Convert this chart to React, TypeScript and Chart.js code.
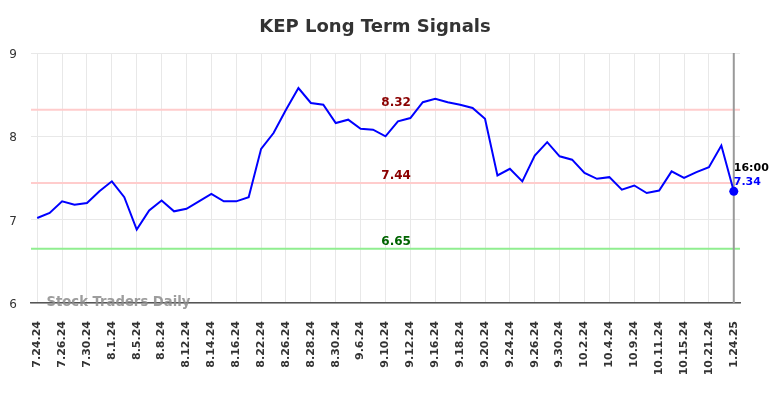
import React, { useEffect, useRef } from "react";
import { Chart, registerables } from "chart.js";

Chart.register(...registerables);

const categories: string[] = [
  "7.24.24", "7.25.24", "7.26.24", "7.29.24", "7.30.24", "7.31.24", "8.1.24", "8.2.24",
  "8.5.24", "8.6.24", "8.8.24", "8.9.24", "8.12.24", "8.13.24", "8.14.24", "8.15.24",
  "8.16.24", "8.19.24", "8.22.24", "8.23.24", "8.26.24", "8.27.24", "8.28.24", "8.29.24",
  "8.30.24", "9.3.24", "9.6.24", "9.9.24", "9.10.24", "9.11.24", "9.12.24", "9.13.24",
  "9.16.24", "9.17.24", "9.18.24", "9.19.24", "9.20.24", "9.23.24", "9.24.24", "9.25.24",
  "9.26.24", "9.27.24", "9.30.24", "10.1.24", "10.2.24", "10.3.24", "10.4.24", "10.8.24",
  "10.9.24", "10.10.24", "10.11.24", "10.14.24", "10.15.24", "10.18.24", "10.21.24", "10.22.24",
  "1.24.25",
];

const prices: number[] = [
  7.02, 7.08, 7.22, 7.18, 7.20, 7.34, 7.46, 7.27,
  6.88, 7.11, 7.23, 7.10, 7.13, 7.22, 7.31, 7.22,
  7.22, 7.27, 7.85, 8.04, 8.32, 8.58, 8.40, 8.38,
  8.16, 8.20, 8.09, 8.08, 8.00, 8.18, 8.22, 8.41,
  8.45, 8.41, 8.38, 8.34, 8.21, 7.53, 7.61, 7.46,
  7.77, 7.93, 7.76, 7.72, 7.56, 7.49, 7.51, 7.36,
  7.41, 7.32, 7.35, 7.58, 7.50, 7.57, 7.63, 7.89,
  7.34,
];

const signalValues: number[] = [8.32, 7.44, 6.65];
const signalLineColors: string[] = ["#ffcccc", "#ffcccc", "#90ee90"];
const signalTextColors: string[] = ["#8b0000", "#8b0000", "#006400"];
const yTicks: number[] = [6, 7, 8, 9];
const titleText = "KEP Long Term Signals";
const lastTimeLabel = "16:00";
const watermark = "Stock Traders Daily";

const FONT = "'DejaVu Sans', sans-serif";

const overlayPlugin = {
  id: "overlay",
  beforeDatasetsDraw(chart: any) {
    const { ctx, chartArea, scales } = chart;
    const y = scales.y;
    const x = scales.x;
    ctx.save();
    signalValues.forEach((v, i) => {
      const py = y.getPixelForValue(v);
      ctx.strokeStyle = signalLineColors[i];
      ctx.lineWidth = 2;
      ctx.beginPath();
      ctx.moveTo(chartArea.left, py);
      ctx.lineTo(chartArea.right, py);
      ctx.stroke();
    });
    const lx = x.getPixelForValue(prices.length - 1);
    ctx.strokeStyle = "#999999";
    ctx.lineWidth = 2;
    ctx.beginPath();
    ctx.moveTo(lx, chartArea.top);
    ctx.lineTo(lx, chartArea.bottom);
    ctx.stroke();
    ctx.restore();
  },
  afterDraw(chart: any) {
    const { ctx, chartArea, scales } = chart;
    const y = scales.y;
    const x = scales.x;
    ctx.save();
    ctx.font = `bold 18px ${FONT}`;
    ctx.fillStyle = "#333333";
    ctx.textAlign = "center";
    ctx.textBaseline = "alphabetic";
    ctx.fillText(titleText, 375, 31.5);
    const cx = chartArea.left + (chartArea.right - chartArea.left) * 0.515;
    ctx.font = `bold 12px ${FONT}`;
    signalValues.forEach((v, i) => {
      const py = y.getPixelForValue(v);
      ctx.fillStyle = signalTextColors[i];
      ctx.fillText(v.toFixed(2), cx, py - 4);
    });
    const li = prices.length - 1;
    const lx = x.getPixelForValue(li);
    const ly = y.getPixelForValue(prices[li]);
    ctx.textAlign = "left";
    ctx.font = `bold 11px ${FONT}`;
    ctx.fillStyle = "#000000";
    ctx.fillText(lastTimeLabel, lx, ly - 20);
    ctx.fillStyle = "#0000ff";
    ctx.fillText(prices[li].toFixed(2), lx, ly - 6);
    ctx.font = `bold 13.2px ${FONT}`;
    ctx.fillStyle = "rgba(140,140,140,0.85)";
    ctx.fillText(watermark, chartArea.left + 15.5, chartArea.bottom + 3);
    ctx.restore();
  },
};

export default function App() {
  const ref = useRef<HTMLCanvasElement | null>(null);
  useEffect(() => {
    if (!ref.current) return;
    const chart = new Chart(ref.current, {
      type: "line",
      data: {
        labels: categories,
        datasets: [
          {
            data: prices,
            borderColor: "#0000ff",
            backgroundColor: "#0000ff",
            borderWidth: 2,
            tension: 0,
            pointRadius: (c: any) => (c.dataIndex === prices.length - 1 ? 4.5 : 0),
            pointHoverRadius: 0,
            pointBackgroundColor: "#0000ff",
            pointBorderWidth: 0,
          },
        ],
      },
      options: {
        animation: false,
        responsive: false,
        maintainAspectRatio: false,
        events: [],
        layout: { padding: { left: 0, right: 44, top: 53, bottom: 0 } },
        plugins: {
          legend: { display: false },
          title: { display: false },
          tooltip: { enabled: false },
        },
        scales: {
          x: {
            type: "category",
            offset: true,
            grid: {
              offset: false,
              drawTicks: false,
              color: (c: any) => (c.index % 2 === 0 ? "#e8e8e8" : "rgba(0,0,0,0)"),
              lineWidth: 1,
            },
            border: { display: true, color: "#555555", width: 1.5 },
            ticks: {
              autoSkip: false,
              maxRotation: 90,
              minRotation: 90,
              padding: 18,
              color: "#333333",
              font: { family: FONT, size: 11, weight: "bold" },
              callback: (_v: any, i: number) => (i % 2 === 0 ? categories[i] : ""),
            },
            afterFit: (s: any) => {
              s.height = 95;
            },
          },
          y: {
            min: 6,
            max: 9,
            afterBuildTicks: (s: any) => {
              s.ticks = yTicks.map((v) => ({ value: v }));
            },
            grid: { drawTicks: false, color: "#e8e8e8", lineWidth: 1 },
            border: { display: false },
            ticks: {
              padding: 14,
              labelOffset: 2,
              color: "#333333",
              font: { family: FONT, size: 12 },
            },
            afterFit: (s: any) => {
              s.width = 31;
            },
          },
        },
      },
      plugins: [overlayPlugin],
    } as any);
    return () => chart.destroy();
  }, []);
  return (
    <div style={{ position: "fixed", left: 0, top: 0, width: 784, height: 398, background: "#fff" }}>
      <canvas ref={ref} width={784} height={398} style={{ width: 784, height: 398, display: "block" }} />
    </div>
  );
}
